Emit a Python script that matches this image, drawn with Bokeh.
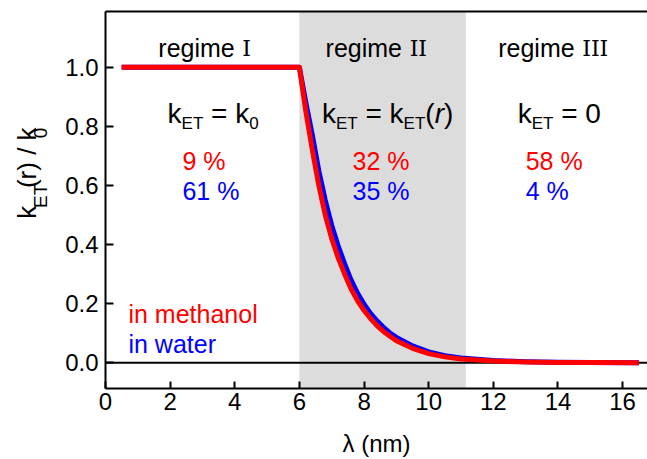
import math

from bokeh.core.properties import value
from bokeh.embed import file_html
from bokeh.layouts import row
from bokeh.resources import INLINE
from bokeh.plotting import figure
from bokeh.models import (Label, BoxAnnotation, Span, LinearAxis, FixedTicker,
                          Range1d, ColumnDataSource)

# ---- data -------------------------------------------------------------
lam_nm = [0.5, 6.0, 6.2, 6.4, 6.6, 6.8, 7.0, 7.2, 7.4, 7.6, 7.8, 8.0, 8.2, 8.4,
          8.6, 8.8, 9.0, 9.5, 10.0, 10.5, 11.0, 12.0, 13.0, 14.0, 15.0, 16.5]
k_methanol = [1.0, 1.0, 0.85, 0.72, 0.60, 0.50, 0.42, 0.355, 0.30, 0.25, 0.21,
              0.177, 0.15, 0.126, 0.106, 0.09, 0.075, 0.049, 0.031, 0.02,
              0.013, 0.006, 0.003, 0.0013, 0.0006, 0.0002]
k_water = [1.0, 1.0, 0.88, 0.77, 0.65, 0.55, 0.465, 0.395, 0.335, 0.28, 0.235,
           0.198, 0.167, 0.142, 0.12, 0.101, 0.086, 0.057, 0.037, 0.024, 0.016,
           0.0075, 0.0037, 0.0017, 0.0008, 0.0003]

regime_edges = [6.0, 11.15]
regime_names = ["I", "II", "III"]
share_methanol = ["9 %", "32 %", "58 %"]
share_water = ["61 %", "35 %", "4 %"]

x_ticks = [0, 2, 4, 6, 8, 10, 12, 14, 16]
y_ticks = [0.0, 0.2, 0.4, 0.6, 0.8, 1.0]

X_START, X_END = 0.0, 16.77
Y_START, Y_END = -0.087, 1.189
FRAME_W, FRAME_H = 542, 381
DX = (X_END - X_START) / FRAME_W   # data units per pixel
DY = (Y_END - Y_START) / FRAME_H

W, H = 647, 459
LEFT_W = 60       # strip holding the rotated y title

SANS = "Liberation Sans"
SERIF = "DejaVu Serif"
RED = "#ff0000"
BLUE = "#0000ff"

# Arial-metric advance widths (em) for composing sub-scripted labels
ADV = {"k": 0.5, "E": 0.667, "T": 0.611, " ": 0.278, "=": 0.584, "0": 0.556,
       "(": 0.333, ")": 0.333, "r": 0.333, "/": 0.278, "I": 0.47}


def text_width(txt, size):
    return sum(ADV.get(c, 0.55) for c in txt) * size


# ---- main plot ----------------------------------------------------------
p = figure(width=W - LEFT_W, height=H,
           x_range=Range1d(X_START, X_END), y_range=Range1d(Y_START, Y_END),
           title=None, output_backend="svg", toolbar_location=None,
           min_border_left=105 - LEFT_W, min_border_right=0,
           min_border_top=11, min_border_bottom=H - 11 - FRAME_H)
p.xgrid.visible = False
p.ygrid.visible = False
p.outline_line_color = None
p.background_fill_color = "white"
p.border_fill_color = "white"

for ax in (p.xaxis[0], p.yaxis[0]):
    ax.axis_line_width = 2
    ax.axis_line_color = "black"
    ax.major_tick_line_width = 2
    ax.major_tick_line_color = "black"
    ax.major_tick_out = 0
    ax.minor_tick_line_color = None
    ax.major_label_text_font = SANS
    ax.major_label_text_font_size = "24px"
    ax.major_label_text_color = "black"

p.xaxis.ticker = FixedTicker(ticks=x_ticks)
p.yaxis.ticker = FixedTicker(ticks=y_ticks)
p.xaxis.major_tick_in = 7
p.yaxis.major_tick_in = 8
p.xaxis.major_label_standoff = 4
p.yaxis.major_label_standoff = 7
p.yaxis.major_label_overrides = {v: f"{v:.1f}" for v in y_ticks}

p.xaxis.axis_label = "\u03bb (nm)"
p.xaxis.axis_label_text_font = SANS
p.xaxis.axis_label_text_font_size = "24px"
p.xaxis.axis_label_text_font_style = "normal"
p.xaxis.axis_label_text_color = "black"
p.xaxis.axis_label_standoff = 17

top = LinearAxis(ticker=FixedTicker(ticks=[]), axis_line_width=2,
                 axis_line_color="black", major_tick_line_color=None,
                 minor_tick_line_color=None, major_label_text_font_size="0px",
                 major_label_standoff=0)
p.add_layout(top, "above")

# regime II band and zero line
p.add_layout(BoxAnnotation(left=regime_edges[0], right=regime_edges[1],
                           fill_color="#dcdcdc", fill_alpha=1.0,
                           line_color=None, level="underlay"))
p.add_layout(Span(location=0, dimension="width", line_color="black",
                  line_width=2, level="underlay"))

src = ColumnDataSource(dict(lam=lam_nm, m=k_methanol, w=k_water))
p.line("lam", "w", source=src, line_color=BLUE, line_width=5,
       line_join="round")
p.line("lam", "m", source=src, line_color=RED, line_width=5,
       line_join="round")


def label(x, y, txt, size, color="black", font=SANS, style="normal",
          align="left", xoff=0):
    p.add_layout(Label(x=x, y=y, text=txt, text_font=font,
                       text_font_size=f"{size}px", text_color=color,
                       text_font_style=style, text_align=align,
                       text_baseline="alphabetic", x_offset=xoff))


def rich_row(cx, base_y, pieces):
    """pieces: (text, size, style, drop_px) laid out left to right, centred."""
    total = sum(text_width(t, s) for t, s, _, _ in pieces)
    cur = -total / 2
    for t, s, st, drop in pieces:
        lead = len(t) - len(t.lstrip(" "))
        shown = t.lstrip(" ")
        label(cx, base_y - drop * DY, shown, s, style=st,
              xoff=cur + lead * ADV[" "] * s)
        cur += text_width(t, s)


# regime titles
title_x = [3.095, 8.43, 13.93]
for cx, name in zip(title_x, regime_names):
    w1 = text_width("regime ", 25)
    w2 = text_width(name, 22)
    start = -(w1 + w2) / 2
    label(cx, 1.065, "regime", 25, xoff=start)
    label(cx, 1.065, name, 22, font=SERIF, xoff=start + w1)

BIG, SUB, DROP = 28, 17, 10
rich_row(3.33, 0.845, [("k", BIG, "normal", 0), ("ET", SUB, "normal", DROP),
                       (" = k", BIG, "normal", 0), ("0", SUB, "normal", DROP)])
rich_row(8.73, 0.845, [("k", BIG, "normal", 0), ("ET", SUB, "normal", DROP),
                       (" = k", BIG, "normal", 0), ("ET", SUB, "normal", DROP),
                       ("(", BIG, "normal", 0), ("r", BIG, "italic", 0),
                       (")", BIG, "normal", 0)])
rich_row(14.04, 0.845, [("k", BIG, "normal", 0), ("ET", SUB, "normal", DROP),
                        (" = 0", BIG, "normal", 0)])

# fractions per regime
pct_x = [2.38, 7.645, 13.0]
for x, sm, sw in zip(pct_x, share_methanol, share_water):
    label(x, 0.683, sm, 25, color=RED)
    label(x, 0.58, sw, 25, color=BLUE)

# solvent key
label(0.71, 0.164, "in methanol", 25, color=RED)
label(0.71, 0.064, "in water", 25, color=BLUE)

# ---- rotated y title: k_ET(r) / k_0 ------------------------------------
ylab = figure(width=LEFT_W, height=H, x_range=Range1d(0, LEFT_W),
              y_range=Range1d(0, H), title=None, output_backend="svg",
              toolbar_location=None, x_axis_location=None,
              y_axis_location=None, min_border=0, min_border_left=0,
              min_border_right=0, min_border_top=0, min_border_bottom=0)
ylab.xgrid.visible = False
ylab.ygrid.visible = False
ylab.outline_line_color = None
ylab.background_fill_color = "white"
ylab.border_fill_color = "white"

YB, YS, YDROP = 26, 19, 14
ypieces = [("k", YB, 0), ("ET", YS, YDROP), ("(r) / k", YB, 0), ("0", YS, YDROP)]
total = sum(text_width(t, s) for t, s, _ in ypieces)
base_x = 26        # baseline column, pixels from the left edge
mid_y = 198        # vertical centre, pixels from the top
cur = -total / 2
xs, ys, txts, sizes = [], [], [], []
for t, s, drop in ypieces:
    xs.append(base_x + drop)
    ys.append(H - (mid_y - cur))
    txts.append(t)
    sizes.append(f"{s}px")
    cur += text_width(t, s)
ylab.text(x="x", y="y", text="t", text_font_size="fs",
          source=ColumnDataSource(dict(x=xs, y=ys, t=txts, fs=sizes)),
          angle=math.pi / 2, text_font=value(SANS), text_color="black",
          text_align="left", text_baseline="alphabetic")

layout = row(ylab, p)
open("out.html", "w").write(file_html(layout, INLINE))
